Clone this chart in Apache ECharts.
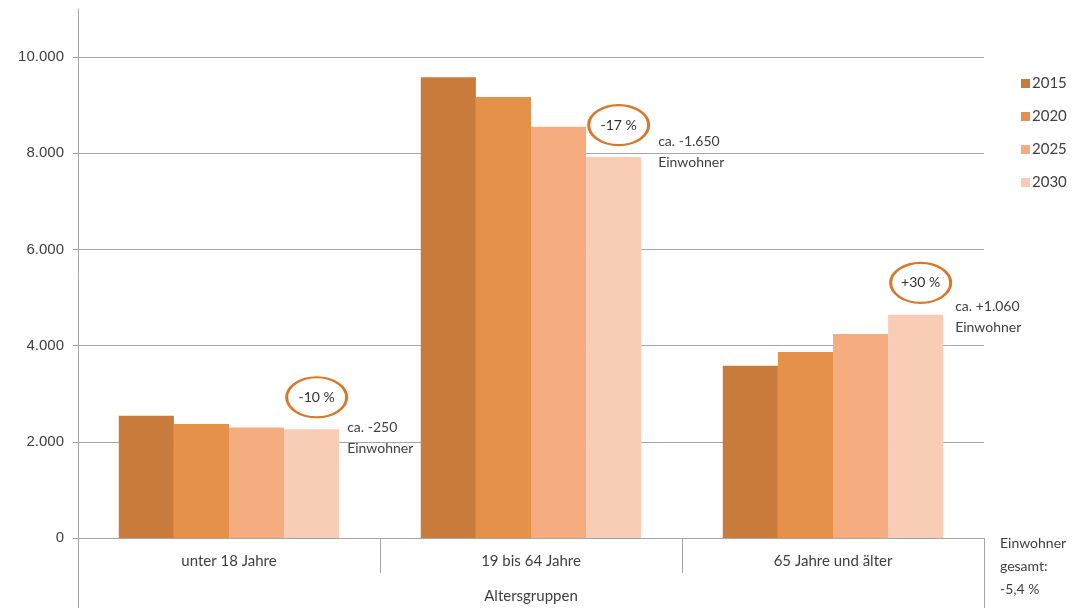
<!DOCTYPE html>
<html>
<head>
<meta charset="utf-8">
<script src="https://cdn.jsdelivr.net/npm/echarts@6/dist/echarts.min.js"></script>
<style>html,body{margin:0;padding:0;background:#fff}#c{width:1081px;height:608px}</style>
</head>
<body>
<div id="c"></div>
<script>
var categories = ['unter 18 Jahre', '19 bis 64 Jahre', '65 Jahre und älter'];
var years = ['2015', '2020', '2025', '2030'];
var v2015 = [2540, 9580, 3580];
var v2020 = [2370, 9170, 3870];
var v2025 = [2300, 8550, 4240];
var v2030 = [2260, 7920, 4640];
var changePct = ['-10 %', '-17 %', '+30 %'];
var changeAbs = ['ca. -250', 'ca. -1.650', 'ca. +1.060'];
var yTicks = [0, 2000, 4000, 6000, 8000, 10000];
var totalNote = 'Einwohner\ngesamt:\n-5,4 %';

var colors = ['#C87B3A', '#E6914A', '#F5AD80', '#F9CCB6'];
var seriesValues = [v2015, v2020, v2025, v2030];
var FONT = 'Lato, "Open Sans", sans-serif';
var TXT = '#404040';
var GRID = {left: 78, right: 97, top: 9, bottom: 70};
var W = 1081, H = 608;

// per-annotation text offsets (layout only)
var textOffsets = [[36, -12], [45, -26], [40, -18]];

var mpData = [];
for (var i = 0; i < categories.length; i++) {
  mpData.push({
    coord: [i, v2030[i]],
    symbol: 'circle',
    symbolSize: [60, 40],
    symbolOffset: [5, -32],
    itemStyle: {color: 'rgba(0,0,0,0)', borderColor: '#D8772A', borderWidth: 2.5},
    label: {show: true, position: 'inside', formatter: changePct[i], color: '#333', fontSize: 14, fontFamily: FONT}
  });
  mpData.push({
    coord: [i, v2030[i]],
    symbol: 'rect',
    symbolSize: 1,
    itemStyle: {color: 'rgba(0,0,0,0)'},
    label: {show: true, position: textOffsets[i], align: 'left', verticalAlign: 'top',
      formatter: changeAbs[i] + '\nEinwohner', color: TXT, fontSize: 14, lineHeight: 21, fontFamily: FONT}
  });
}

var series = years.map(function (y, k) {
  var s = {
    name: y,
    type: 'bar',
    data: seriesValues[k],
    barGap: '0%',
    barCategoryGap: '27%',
    itemStyle: {color: colors[k]}
  };
  if (k === 3) {
    s.markPoint = {data: mpData, silent: true, animation: false};
  }
  return s;
});

var chart = echarts.init(document.getElementById('c'));
chart.setOption({
  animation: false,
  backgroundColor: '#fff',
  grid: {left: GRID.left, right: GRID.right, top: GRID.top, bottom: GRID.bottom, containLabel: false, outerBoundsMode: 'none'},
  legend: {
    orient: 'vertical',
    left: 1016,
    top: 71,
    itemWidth: 9,
    itemHeight: 9,
    itemGap: 18,
    icon: 'rect',
    data: years,
    textStyle: {color: TXT, fontSize: 15, lineHeight: 14, fontFamily: FONT, padding: [0, 0, 0, -3]}
  },
  xAxis: {
    type: 'category',
    data: categories,
    axisLine: {lineStyle: {color: '#a6a6a6', width: 1}},
    axisTick: {show: true, length: 35, interval: 0, lineStyle: {color: '#a6a6a6'}},
    axisLabel: {color: TXT, fontSize: 15, fontFamily: FONT, margin: 16, interval: 0},
    name: 'Altersgruppen',
    nameLocation: 'middle',
    nameGap: 51,
    nameTextStyle: {color: TXT, fontSize: 15, fontFamily: FONT}
  },
  yAxis: {
    type: 'value',
    min: 0,
    max: 11000,
    interval: 2000,
    axisLine: {show: true, lineStyle: {color: '#a6a6a6'}},
    axisTick: {show: true, length: 5, lineStyle: {color: '#a6a6a6'}, customValues: yTicks},
    splitLine: {show: true, lineStyle: {color: '#a6a6a6'}},
    axisLabel: {
      color: TXT, fontSize: 15, fontFamily: '"Liberation Sans", Arial, sans-serif', margin: 14,
      customValues: yTicks,
      formatter: function (v) {
        if (v > 10000) return '';
        return String(v).replace(/\B(?=(\d{3})+(?!\d))/g, '.');
      }
    }
  },
  graphic: [
    {type: 'line', shape: {x1: GRID.left + 0.5, y1: H - GRID.bottom, x2: GRID.left + 0.5, y2: H}, style: {stroke: '#a6a6a6', lineWidth: 1}},
    {type: 'line', shape: {x1: W - GRID.right + 0.5, y1: H - GRID.bottom, x2: W - GRID.right + 0.5, y2: H}, style: {stroke: '#a6a6a6', lineWidth: 1}},
    {type: 'text', left: 1000, top: 532, style: {text: totalNote, fill: TXT, fontSize: 14, lineHeight: 23, fontFamily: FONT}}
  ],
  series: series
});
</script>
</body>
</html>
